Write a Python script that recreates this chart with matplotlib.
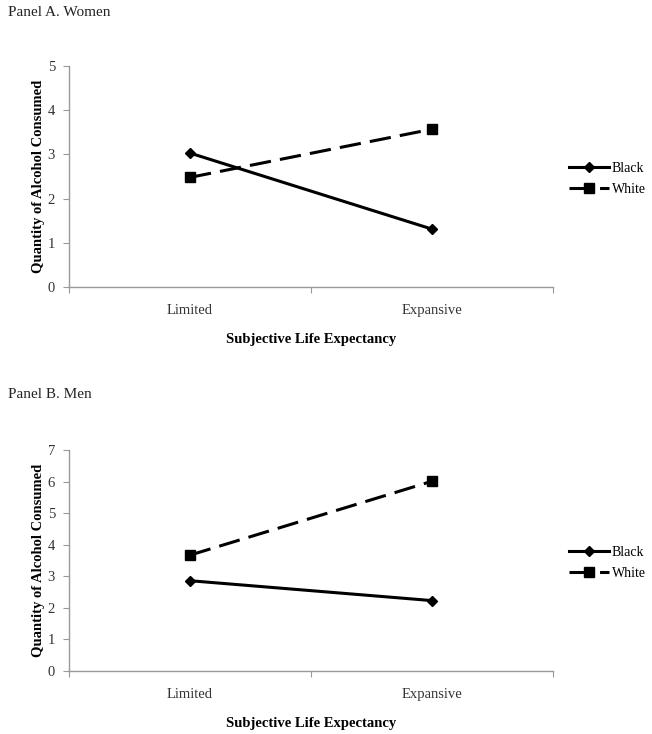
import matplotlib
matplotlib.use("Agg")
import matplotlib.pyplot as plt
from matplotlib.ticker import FixedLocator

plt.rcParams['font.family'] = ['Liberation Serif', 'DejaVu Serif']

categories = ["Limited", "Expansive"]
series_names = ["Black", "White"]
women_black = [3.03, 1.31]
women_white = [2.48, 3.57]
men_black = [2.86, 2.23]
men_white = [3.67, 6.01]
women_yticks = [0, 1, 2, 3, 4, 5]
men_yticks = [0, 1, 2, 3, 4, 5, 6, 7]

fig = plt.figure(figsize=(6.52, 7.34), dpi=100)

def panel(rect, black, white, yticks, title, title_y, leg_y):
    ax = fig.add_axes(rect)
    x = [0.5, 1.5]
    ax.plot(x, black, color='black', lw=2.2, marker='D', ms=5.5, label=series_names[0])
    ax.plot(x, white, color='black', lw=2.2, ls=(0, (7, 3)), marker='s', ms=6.5, label=series_names[1])
    ax.set_xlim(0, 2)
    ax.set_ylim(yticks[0], yticks[-1])
    ax.set_yticks(yticks)
    ax.xaxis.set_major_locator(FixedLocator([0, 1, 2]))
    ax.xaxis.set_minor_locator(FixedLocator(x))
    ax.set_xticklabels([])
    ax.set_xticklabels(categories, minor=True)
    ax.tick_params(axis='x', which='major', length=4, color='#999999', direction='out')
    ax.tick_params(axis='x', which='minor', length=0, pad=12, labelsize=10.5, labelcolor='#333333')
    ax.tick_params(axis='y', length=4, color='#999999', labelsize=10.5, labelcolor='#333333', pad=6)
    for s in ['top', 'right']:
        ax.spines[s].set_visible(False)
    for s in ['left', 'bottom']:
        ax.spines[s].set_color('#999999')
        ax.spines[s].set_linewidth(1.0)
    ax.set_xlabel("Subjective Life Expectancy", fontweight='bold', fontsize=10.5, labelpad=12)
    ax.set_ylabel("Quantity of Alcohol Consumed", fontweight='bold', fontsize=10.5, labelpad=2)
    ax.legend(loc='center left', bbox_to_anchor=(1.033, leg_y), frameon=False,
              fontsize=10, handlelength=2.9, handletextpad=0.2, labelspacing=0.55,
              borderpad=0, borderaxespad=0)
    fig.text(8 / 652, title_y, title, fontsize=11, ha='left', va='center', color='#222222')
    return ax

panel([69 / 652, 1 - 287 / 734, (553 - 69) / 652, (287 - 66) / 734],
      women_black, women_white, women_yticks, "Panel A. Women", 1 - 12 / 734, 0.49)
panel([69 / 652, 1 - 671 / 734, (553 - 69) / 652, (671 - 450) / 734],
      men_black, men_white, men_yticks, "Panel B. Men", 1 - 395 / 734, 0.49)

fig.savefig("out.png", dpi=100)
